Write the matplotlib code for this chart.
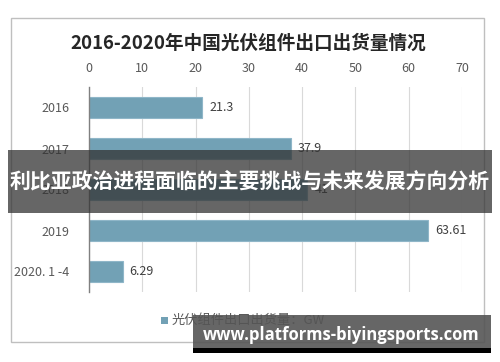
import matplotlib
matplotlib.use("Agg")
import matplotlib.pyplot as plt
from matplotlib.patches import Rectangle

plt.rcParams['font.family'] = ['Noto Sans CJK SC', 'DejaVu Sans']

categories = ['2016', '2017', '2018', '2019', '2020. 1 -4']
values = [21.3, 37.9, 41.0, 63.61, 6.29]
value_labels = ['21.3', '37.9', '41', '63.61', '6.29']
xticks = [0, 10, 20, 30, 40, 50, 60, 70]
title = '2016-2020年中国光伏组件出口出货量情况'
legend_label = '光伏组件出口出货量：GW'
banner = '利比亚政治进程面临的主要挑战与未来发展方向分析'
watermark = 'www.platforms-biyingsports.com'

W, H = 500, 362
fig = plt.figure(figsize=(W/100, H/100), dpi=100)
fig.patch.set_facecolor('white')

def fx(px): return px / W
def fy(py): return 1 - py / H

# outer chart frame
fig.patches.append(Rectangle((fx(11), fy(342)), fx(484) - fx(11), fy(18) - fy(342),
                             transform=fig.transFigure, fill=False, edgecolor='#bfbfbf', lw=1.0))

ax = fig.add_axes([fx(89), fy(292), fx(462) - fx(89), fy(87) - fy(292)])
y = list(range(len(categories)))
ax.barh(y, values, height=0.49, color='#72a1b5', edgecolor='#8fb6c8', lw=0.8, zorder=3)
ax.set_xlim(0, 70)
ax.set_ylim(len(categories) - 0.5, -0.5)
ax.set_yticks(y)
ax.set_yticklabels(categories)
ax.set_xticks(xticks)
ax.xaxis.tick_top()
ax.tick_params(axis='both', length=0, labelsize=9, colors='#595959')
ax.tick_params(axis='x', pad=9)
ax.tick_params(axis='y', pad=14)
ax.grid(axis='x', color='#d9d9d9', lw=0.8, zorder=0)
for s in ['top', 'right', 'bottom']:
    ax.spines[s].set_visible(False)
ax.spines['left'].set_color('#808080')
ax.spines['left'].set_linewidth(1.0)
ax.spines['left'].set_zorder(4)

for yi, v, lab in zip(y, values, value_labels):
    ax.text(v + 1.3, yi, lab, va='center', ha='left', fontsize=9, color='#404040', zorder=5)

fig.text(fx(248), fy(43), title, ha='center', va='center', fontsize=13.4, fontweight='bold', color='#262626')

# legend
fig.patches.append(Rectangle((fx(161), fy(324)), 7/W, 7/H, transform=fig.transFigure,
                             facecolor='#72a1b5', edgecolor='none'))
fig.text(fx(172), fy(320), legend_label, ha='left', va='center', fontsize=9.5, color='#595959')

# banner overlay
fig.patches.append(Rectangle((fx(8), fy(213)), fx(492) - fx(8), fy(150) - fy(213),
                             transform=fig.transFigure, facecolor='#333333', alpha=0.75,
                             edgecolor='none', zorder=10))
fig.text(fx(250), fy(182), banner, ha='center', va='center', fontsize=15, fontweight='bold',
         color='white', zorder=11)

# watermark
fig.patches.append(Rectangle((fx(193), fy(348)), fx(491) - fx(193), fy(315) - fy(348),
                             transform=fig.transFigure, facecolor='#555555', alpha=0.9,
                             edgecolor='none', zorder=10))
fig.patches.append(Rectangle((fx(193), fy(353)), fx(491) - fx(193), fy(348) - fy(353),
                             transform=fig.transFigure, facecolor='black',
                             edgecolor='none', zorder=10))
fig.text(fx(341), fy(335), watermark, ha='center', va='center', fontsize=12, fontweight='bold',
         color='white', family=['Open Sans', 'DejaVu Sans'], zorder=11)

fig.savefig('out.png', dpi=100)
